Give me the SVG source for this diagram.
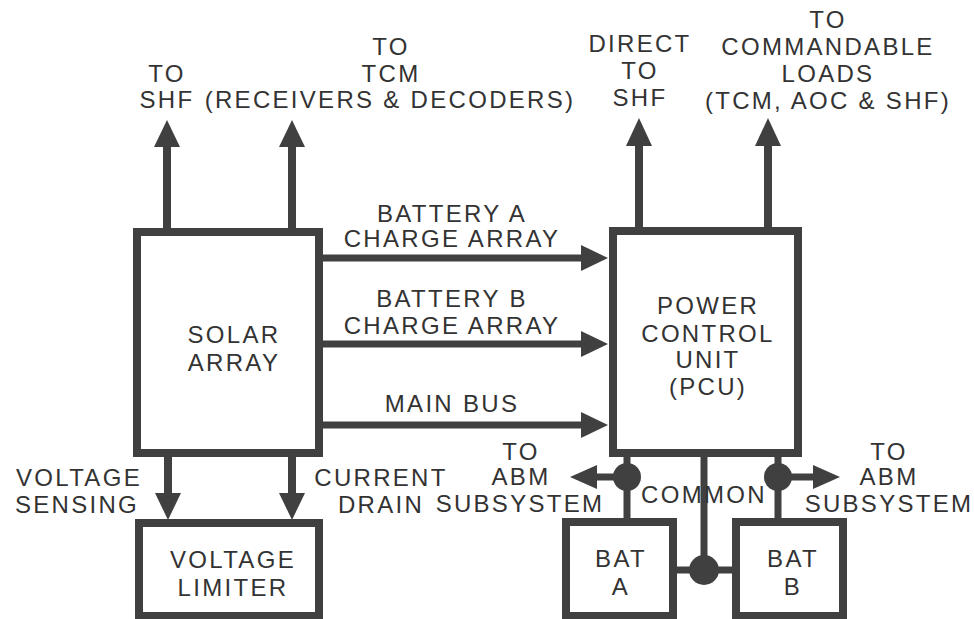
<svg xmlns="http://www.w3.org/2000/svg" width="974" height="619" viewBox="0 0 974 619">
<style>
.box{fill:#fff;stroke:#404040;stroke-width:8}
.ln{stroke:#404040;stroke-width:8;fill:none}
.thin{stroke:#404040;stroke-width:7;fill:none}
.hd{fill:#404040}
text{font-family:"Liberation Sans",Arial,sans-serif;font-size:24px;letter-spacing:2.3px;fill:#333;text-anchor:middle}
</style>
<rect width="974" height="619" fill="#fff"/>
<g id="connectors">
  <line class="ln" x1="167" y1="232" x2="167" y2="145"/>
  <polygon class="hd" points="167,120 154,147 180,147"/>
  <line class="ln" x1="292" y1="232" x2="292" y2="145"/>
  <polygon class="hd" points="292,120 279,147 305,147"/>
  <line class="ln" x1="639" y1="231" x2="639" y2="145"/>
  <polygon class="hd" points="639,118 626,146 652,146"/>
  <line class="ln" x1="768" y1="231" x2="768" y2="145"/>
  <polygon class="hd" points="768,118 755,146 781,146"/>
  <line class="thin" x1="319" y1="258" x2="584" y2="258"/>
  <polygon class="hd" points="608,258 581,245 581,271"/>
  <line class="thin" x1="319" y1="344" x2="584" y2="344"/>
  <polygon class="hd" points="608,344 581,331 581,357"/>
  <line class="thin" x1="319" y1="425" x2="584" y2="425"/>
  <polygon class="hd" points="608,425 581,412 581,438"/>
  <line class="ln" x1="168" y1="453" x2="168" y2="496"/>
  <polygon class="hd" points="168,520 155,493 181,493"/>
  <line class="ln" x1="292" y1="453" x2="292" y2="496"/>
  <polygon class="hd" points="292,520 279,493 305,493"/>
  <line class="thin" x1="627" y1="453" x2="627" y2="522"/>
  <line class="thin" x1="627" y1="477" x2="594" y2="477"/>
  <polygon class="hd" points="570,477 597,465 597,489"/>
  <circle class="hd" cx="627" cy="477" r="14"/>
  <line class="thin" x1="778" y1="453" x2="778" y2="522"/>
  <line class="thin" x1="778" y1="477" x2="816" y2="477"/>
  <polygon class="hd" points="840,477 813,465 813,489"/>
  <circle class="hd" cx="778" cy="477" r="14"/>
  <line class="thin" x1="704" y1="453" x2="704" y2="570"/>
  <line class="thin" x1="673" y1="570" x2="736" y2="570"/>
  <circle class="hd" cx="704" cy="570" r="15"/>
</g>
<g id="solar-array">
  <rect class="box" x="137" y="232" width="182" height="221"/>
  <text x="234" y="343">SOLAR</text>
  <text x="234" y="371">ARRAY</text>
</g>
<g id="pcu">
  <rect class="box" x="613" y="231" width="185" height="222"/>
  <text x="708" y="314">POWER</text>
  <text x="708" y="342">CONTROL</text>
  <text x="708" y="368">UNIT</text>
  <text x="708" y="395">(PCU)</text>
</g>
<g id="voltage-limiter">
  <rect class="box" x="139" y="523" width="180" height="93"/>
  <text x="233" y="568">VOLTAGE</text>
  <text x="233" y="596">LIMITER</text>
</g>
<g id="bat-a">
  <rect class="box" x="566" y="522" width="107" height="94"/>
  <text x="621" y="567">BAT</text>
  <text x="621" y="595">A</text>
</g>
<g id="bat-b">
  <rect class="box" x="736" y="522" width="107" height="94"/>
  <text x="793" y="567">BAT</text>
  <text x="793" y="595">B</text>
</g>
<g id="labels">
  <text x="167" y="82">TO</text>
  <text x="167" y="108">SHF</text>
  <text x="391" y="55">TO</text>
  <text x="391" y="82">TCM</text>
  <text x="390" y="108">(RECEIVERS &amp; DECODERS)</text>
  <text x="640" y="52">DIRECT</text>
  <text x="640" y="79">TO</text>
  <text x="640" y="106">SHF</text>
  <text x="828" y="28">TO</text>
  <text x="828" y="55">COMMANDABLE</text>
  <text x="828" y="82">LOADS</text>
  <text x="828" y="109">(TCM, AOC &amp; SHF)</text>
  <text x="452" y="222">BATTERY A</text>
  <text x="452" y="247">CHARGE ARRAY</text>
  <text x="452" y="307">BATTERY B</text>
  <text x="452" y="334">CHARGE ARRAY</text>
  <text x="452" y="412">MAIN BUS</text>
  <text x="79" y="486">VOLTAGE</text>
  <text x="77" y="513">SENSING</text>
  <text x="381" y="486">CURRENT</text>
  <text x="381" y="513">DRAIN</text>
  <text x="521" y="460">TO</text>
  <text x="521" y="485">ABM</text>
  <text x="520" y="512">SUBSYSTEM</text>
  <text x="704" y="503">COMMON</text>
  <text x="889" y="460">TO</text>
  <text x="889" y="485">ABM</text>
  <text x="889" y="512">SUBSYSTEM</text>
</g>
</svg>
